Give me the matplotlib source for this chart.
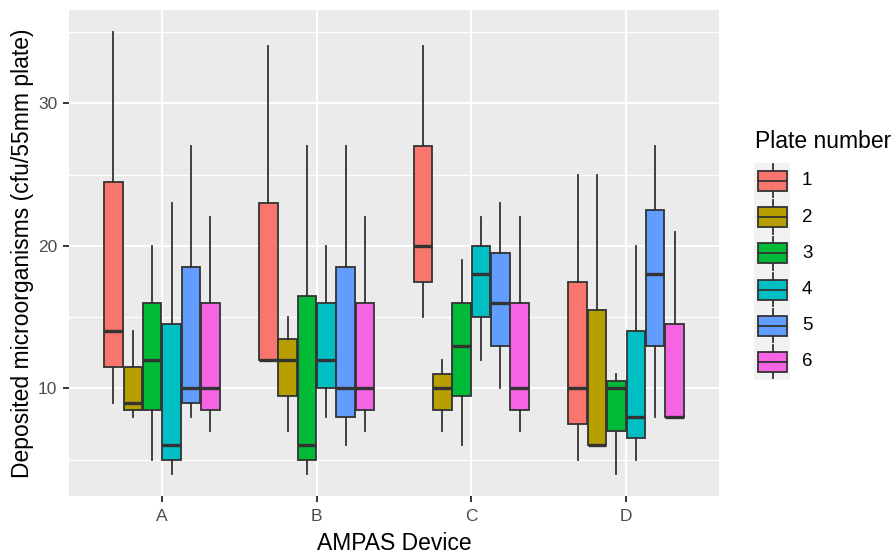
import matplotlib
matplotlib.use("Agg")
import matplotlib.pyplot as plt
from matplotlib.patches import Rectangle
import numpy as np

plt.rcParams['font.family'] = ['Liberation Sans', 'DejaVu Sans']

devices = ['A', 'B', 'C', 'D']
plates = ['1', '2', '3', '4', '5', '6']
colors = ['#F8766D', '#B79F00', '#00BA38', '#00BFC4', '#619CFF', '#F564E3']

# five-number summaries per device, one row per plate: (min, q1, median, q3, max)
stats_A = [(9, 11.5, 14, 24.5, 35), (8, 8.5, 9, 11.5, 14), (5, 8.5, 12, 16, 20),
           (4, 5, 6, 14.5, 23), (8, 9, 10, 18.5, 27), (7, 8.5, 10, 16, 22)]
stats_B = [(12, 12, 12, 23, 34), (7, 9.5, 12, 13.5, 15), (4, 5, 6, 16.5, 27),
           (8, 10, 12, 16, 20), (6, 8, 10, 18.5, 27), (7, 8.5, 10, 16, 22)]
stats_C = [(15, 17.5, 20, 27, 34), (7, 8.5, 10, 11, 12), (6, 9.5, 13, 16, 19),
           (12, 15, 18, 20, 22), (10, 13, 16, 19.5, 23), (7, 8.5, 10, 16, 22)]
stats_D = [(5, 7.5, 10, 17.5, 25), (6, 6, 6, 15.5, 25), (4, 7, 10, 10.5, 11),
           (5, 6.5, 8, 14, 20), (8, 13, 18, 22.5, 27), (8, 8, 8, 14.5, 21)]
all_stats = [stats_A, stats_B, stats_C, stats_D]

W, H = 892, 557
fig = plt.figure(figsize=(W / 100, H / 100), dpi=100)
ax = fig.add_axes([69 / W, 1 - 496 / H, 650 / W, 486 / H])
ax.set_facecolor('#EBEBEB')

edge = '#333333'
lw = 1.3
slot = 0.75 / len(plates)
for i, stats in enumerate(all_stats):
    for j, (lo, q1, med, q3, hi) in enumerate(stats):
        pos = i + 1 + (j - (len(plates) - 1) / 2) * slot
        d = dict(whislo=lo, q1=q1, med=med, q3=q3, whishi=hi, fliers=[])
        ax.bxp([d], positions=[pos], widths=slot * 0.96, patch_artist=True,
               showcaps=False, showfliers=False,
               boxprops=dict(facecolor=colors[j], edgecolor=edge, linewidth=lw),
               whiskerprops=dict(color=edge, linewidth=lw),
               medianprops=dict(color=edge, linewidth=2.4, solid_capstyle='butt'),
               zorder=3)

ax.set_xlim(0.4, 4.6)
ax.set_ylim(2.45, 36.55)
ax.set_xticks(range(1, 5))
ax.set_xticklabels(devices)
ax.set_yticks([10, 20, 30])
ax.set_yticks([5, 15, 25, 35], minor=True)
ax.grid(which='major', color='white', linewidth=1.5, zorder=0)
ax.grid(which='minor', axis='y', color='white', linewidth=0.9, zorder=0)
ax.set_axisbelow(True)
for s in ax.spines.values():
    s.set_visible(False)
ax.tick_params(axis='both', which='major', color=edge, length=4.5, width=1.4,
               labelcolor='#4D4D4D', labelsize=12.5)
ax.tick_params(axis='y', pad=4)
ax.tick_params(axis='x', pad=5)
ax.tick_params(axis='y', which='minor', length=0)
ax.set_xlabel('AMPAS Device', fontsize=16.5, va='center')
ax.xaxis.set_label_coords(0.5, -(543 - 496) / 486)
ax.set_ylabel('Deposited microorganisms (cfu/55mm plate)', fontsize=16.5, va='center')
ax.yaxis.set_label_coords(-(69 - 22.5) / 650, 0.5)

# legend drawn as ggplot-style key glyphs
fig.text(755 / W, 1 - 142 / H, 'Plate number', fontsize=16.5, va='center', ha='left')
key_top, key_h = 162.7, 36.2
lax = fig.add_axes([754 / W, 1 - (key_top + 6 * key_h) / H, 36 / W, 6 * key_h / H])
lax.set_xlim(0, 1)
lax.set_ylim(len(plates), 0)
lax.axis('off')
lax.add_patch(Rectangle((0, 0), 1, len(plates), facecolor='#F2F2F2', edgecolor='none'))
for k, (lab, col) in enumerate(zip(plates, colors)):
    lax.add_patch(Rectangle((0.11, k + 0.23), 0.81, 0.55, facecolor=col,
                            edgecolor=edge, linewidth=lw))
    lax.plot([0.11, 0.92], [k + 0.505, k + 0.505], color=edge, linewidth=lw)
    lax.plot([0.515, 0.515], [k + 0.04, k + 0.23], color=edge, linewidth=lw)
    lax.plot([0.515, 0.515], [k + 0.78, k + 0.96], color=edge, linewidth=lw)
    fig.text(802 / W, 1 - (key_top + (k + 0.5) * key_h) / H, lab, fontsize=13.5,
             va='center', ha='left')

fig.savefig('out.png', dpi=100)
